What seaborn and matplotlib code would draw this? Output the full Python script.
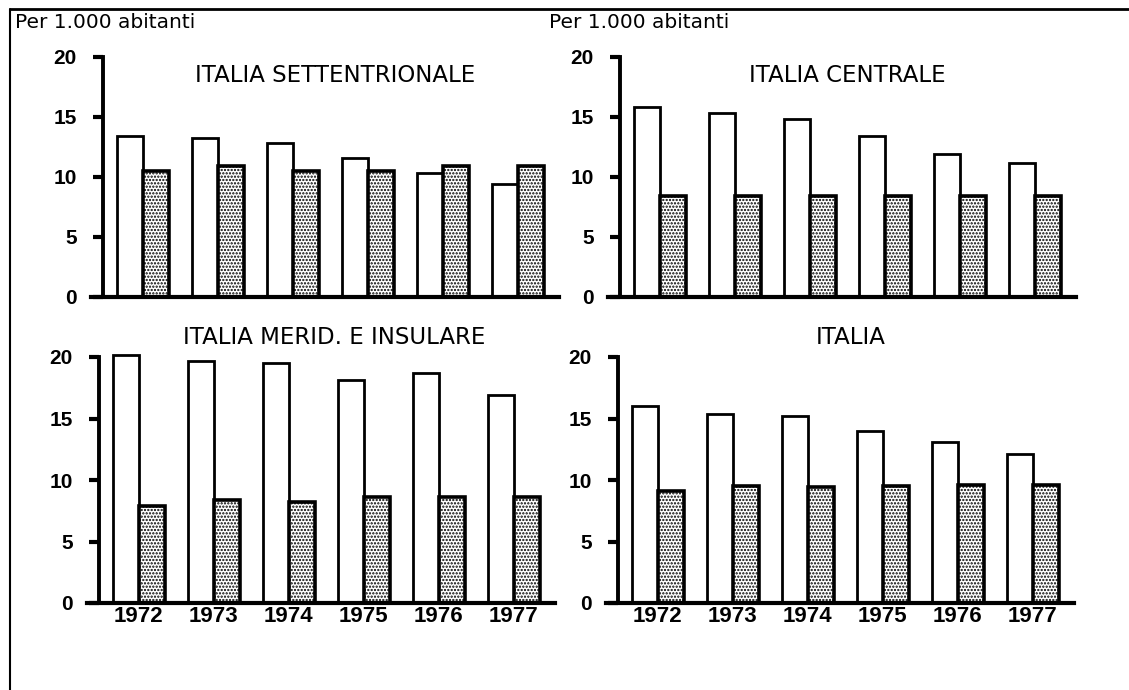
import matplotlib
matplotlib.use("Agg")
import matplotlib.pyplot as plt
import seaborn as sns
import pandas as pd
from matplotlib.lines import Line2D

# ---------------- data ----------------
anni = ["1972", "1973", "1974", "1975", "1976", "1977"]
serie = ["Nati vivi", "Morti"]

nord_nati = [13.4, 13.25, 12.8, 11.6, 10.3, 9.4]
nord_morti = [10.5, 10.95, 10.5, 10.5, 10.95, 10.95]

centro_nati = [15.85, 15.3, 14.8, 13.4, 11.9, 11.2]
centro_morti = [8.45, 8.45, 8.45, 8.45, 8.45, 8.45]

sud_nati = [20.2, 19.7, 19.5, 18.1, 18.7, 16.9]
sud_morti = [7.9, 8.35, 8.2, 8.6, 8.6, 8.6]

italia_nati = [16.05, 15.4, 15.2, 14.0, 13.1, 12.1]
italia_morti = [9.1, 9.5, 9.4, 9.5, 9.6, 9.6]

titoli = ["ITALIA SETTENTRIONALE", "ITALIA CENTRALE",
          "ITALIA MERID. E INSULARE", "ITALIA"]
yticks = [0, 5, 10, 15, 20]
unita = "Per 1.000 abitanti"

# ---------------- style ----------------
sns.set_theme(style="white")
plt.rcParams["font.family"] = ["DejaVu Sans"]
plt.rcParams["text.color"] = "black"
plt.rcParams["axes.labelcolor"] = "black"
plt.rcParams["xtick.color"] = "black"
plt.rcParams["ytick.color"] = "black"
plt.rcParams["hatch.color"] = "black"
plt.rcParams["hatch.linewidth"] = 1.1

W, H = 1129, 690
fig = plt.figure(figsize=(W / 100, H / 100), dpi=100)
fig.patch.set_facecolor("white")

UNIT = 75.0           # px per category
XL, XR = -0.69, 5.55  # x limits
SPINE_X = -0.53
YTOP = 20.6

num_font = ["Liberation Sans", "DejaVu Sans"]


def panel(L, y0, y20, nati, morti, titolo, tx, ty, show_years):
    ppu = (y0 - y20) / 20.0
    left_px = L + (XL - SPINE_X) * UNIT
    width_px = (XR - XL) * UNIT
    height_px = YTOP * ppu
    ax = fig.add_axes([left_px / W, (H - y0) / H, width_px / W, height_px / H])
    df = pd.DataFrame({
        "anno": anni * 2,
        "serie": [serie[0]] * len(anni) + [serie[1]] * len(anni),
        "valore": list(nati) + list(morti),
    })
    sns.barplot(data=df, x="anno", y="valore", hue="serie", hue_order=serie,
                palette=["white", "white"], saturation=1, width=0.7,
                edgecolor="black", linewidth=2.0, ax=ax, legend=False,
                errorbar=None)
    for bar in ax.containers[1]:
        bar.set_hatch(".....")
        bar.set_linewidth(2.6)
    ax.set_xlim(XL, XR)
    ax.set_ylim(0, YTOP)
    ax.set_facecolor("none")
    for s in ("top", "right"):
        ax.spines[s].set_visible(False)
    ax.spines["left"].set_position(("data", SPINE_X))
    ax.spines["left"].set_bounds(0, 20)
    ax.spines["left"].set_linewidth(2.8)
    ax.spines["bottom"].set_linewidth(3.0)
    ax.spines["left"].set_color("black")
    ax.spines["bottom"].set_color("black")
    ax.set_yticks(yticks)
    ax.set_yticklabels([str(v) for v in yticks], fontweight="bold",
                       fontsize=15, family=num_font, color="black")
    ax.tick_params(axis="y", direction="out", length=7, width=3, pad=12,
                   colors="black", left=True)
    ax.set_xlabel("")
    ax.set_ylabel("")
    if show_years:
        ax.set_xticks(range(len(anni)))
        ax.set_xticklabels(anni, fontweight="bold", fontsize=16,
                           family=num_font, color="black")
        ax.tick_params(axis="x", length=0, pad=2, colors="black")
    else:
        ax.set_xticks([])
    ax.grid(False)
    fig.text(tx / W, 1 - ty / H, titolo, ha="center", va="center",
             fontsize=16.5, color="black")
    return ax


panel(103, 297, 57, nord_nati, nord_morti, titoli[0], 335, 76, False)
panel(620, 297, 57, centro_nati, centro_morti, titoli[1], 847, 76, False)
panel(99, 603, 357, sud_nati, sud_morti, titoli[2], 334, 337, True)
panel(618, 603, 357, italia_nati, italia_morti, titoli[3], 851, 338, True)

fig.text(15 / W, 1 - 22 / H, unita, ha="left", va="center", fontsize=14.5,
         color="black")
fig.text(549 / W, 1 - 22 / H, unita, ha="left", va="center", fontsize=14.5,
         color="black")

# outer frame (top and left)
fig.add_artist(Line2D([10 / W, 1.0], [1 - 9 / H, 1 - 9 / H],
                      transform=fig.transFigure, color="black", lw=2))
fig.add_artist(Line2D([10 / W, 10 / W], [1 - 9 / H, 0.0],
                      transform=fig.transFigure, color="black", lw=1.5))

fig.savefig("out.png", dpi=100, facecolor="white")
